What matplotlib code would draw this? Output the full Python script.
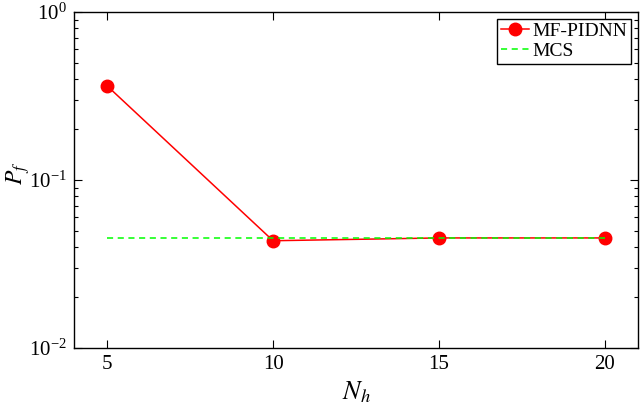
import matplotlib
matplotlib.use("Agg")
import matplotlib.pyplot as plt
from matplotlib.ticker import LogLocator, NullFormatter

plt.rcParams['font.family'] = ['Liberation Serif', 'DejaVu Serif']
plt.rcParams['mathtext.fontset'] = 'stix'

n_h = [5, 10, 15, 20]
pf_mfpidnn = [0.363, 0.0435, 0.0452, 0.0452]
pf_mcs = [0.0452, 0.0452]
mcs_x = [5, 20]
x_ticks = [5, 10, 15, 20]

fig = plt.figure(figsize=(6.4, 4.11), dpi=100)
ax = fig.add_axes([74/640, 1-348/411, (638-74)/640, (348-12)/411])

ax.plot(n_h, pf_mfpidnn, '-o', color='#ff0000', lw=1.1, markersize=9, label='MF-PIDNN')
ax.plot(mcs_x, pf_mcs, '--', color='#00ff00', lw=1.1, dashes=(4, 3), label='MCS')

ax.set_yscale('log')
ax.set_ylim(1e-2, 1e0)
ax.set_xlim(4, 21)
ax.set_xticks(x_ticks)
ax.set_xticklabels([str(v) for v in x_ticks])
ax.yaxis.set_major_locator(LogLocator(base=10, numticks=10))
ax.yaxis.set_minor_locator(LogLocator(base=10, subs=range(2, 10), numticks=20))
ax.yaxis.set_minor_formatter(NullFormatter())
ax.tick_params(axis='both', which='both', direction='in', top=True, right=True, labelsize=15, width=0.8)
ax.tick_params(axis='both', which='major', length=6, pad=5)
ax.tick_params(axis='y', which='minor', length=3)
ax.tick_params(axis='x', which='minor', bottom=False, top=False)
for s in ax.spines.values():
    s.set_linewidth(1.0)

ax.set_xlabel('$N_h$', fontsize=19, labelpad=4)
ax.set_ylabel('$P_f$', fontsize=17)
ax.yaxis.set_label_coords(-0.075, 0.52)

leg = ax.legend(loc='upper right', fontsize=14, fancybox=False, framealpha=1,
                edgecolor='black', borderpad=0.2, handlelength=1.4, labelspacing=0.1,
                handletextpad=0.2, borderaxespad=0.35)
leg.get_frame().set_linewidth(1.0)

fig.savefig('out.png', dpi=100)
